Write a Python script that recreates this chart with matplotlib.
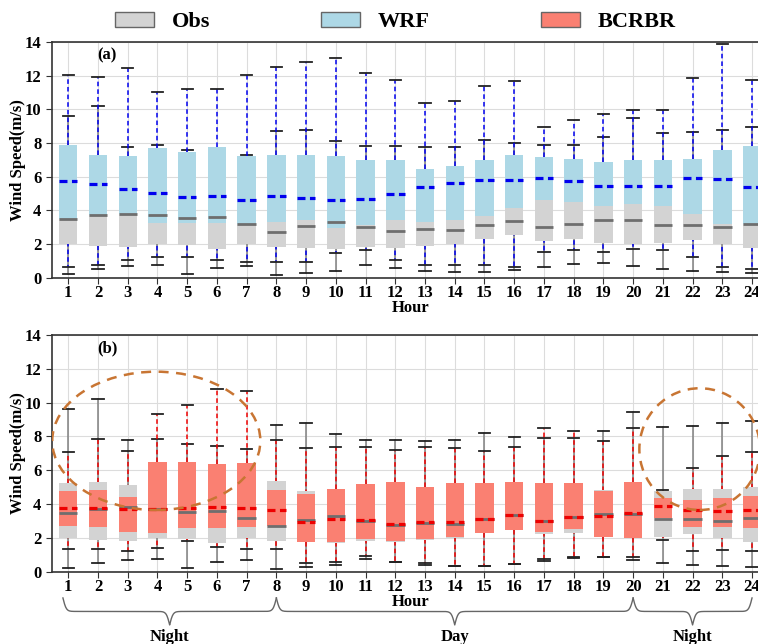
import numpy as np
import matplotlib
matplotlib.use("Agg")
import matplotlib.pyplot as plt
import matplotlib.transforms as mtransforms
from matplotlib.patches import Patch, Ellipse

plt.rcParams['font.family'] = ['Liberation Serif', 'DejaVu Serif']
plt.rcParams['font.weight'] = 'bold'
plt.rcParams['axes.labelweight'] = 'bold'

hours = list(range(1, 25))

# observations (same in both panels)
obs_low = [0.24, 0.50, 0.70, 0.77, 0.24, 0.57, 0.70, 0.18, 0.25, 0.37, 0.75, 0.59,
           0.40, 0.32, 0.34, 0.46, 0.65, 0.82, 0.86, 0.69, 0.50, 0.37, 0.34, 0.27]
obs_q1 = [2.00, 1.89, 1.80, 2.02, 1.92, 1.72, 1.98, 1.80, 1.73, 1.72, 1.79, 1.76,
          1.89, 2.02, 2.28, 2.50, 2.20, 2.30, 2.03, 2.00, 2.04, 2.24, 2.01, 1.73]
obs_med = [3.47, 3.72, 3.80, 3.72, 3.53, 3.60, 3.18, 2.72, 3.06, 3.28, 3.02, 2.77,
           2.90, 2.83, 3.13, 3.35, 2.98, 3.21, 3.41, 3.43, 3.12, 3.13, 3.01, 3.16]
obs_q3 = [5.22, 5.30, 5.10, 5.00, 5.00, 5.10, 4.90, 5.35, 4.77, 4.60, 4.80, 5.00,
          4.80, 4.90, 5.00, 5.00, 4.90, 5.00, 4.83, 5.00, 4.75, 4.89, 4.87, 4.99]
obs_high = [9.62, 10.22, 7.78, 7.86, 7.58, 7.44, 7.27, 8.70, 8.77, 8.12, 7.80, 7.80,
            7.75, 7.78, 8.20, 7.99, 7.90, 7.90, 8.32, 9.46, 8.57, 8.63, 8.77, 8.93]

# WRF
wrf_low = [0.63, 0.73, 1.07, 1.23, 1.25, 1.03, 0.93, 0.93, 0.93, 1.43, 1.66, 1.07,
           0.73, 0.73, 0.73, 0.63, 1.52, 1.66, 1.52, 1.72, 1.66, 1.23, 0.63, 0.53]
wrf_q1 = [3.50, 3.72, 3.80, 3.25, 3.25, 3.25, 3.20, 3.33, 3.40, 2.95, 3.10, 3.40,
          3.30, 3.40, 3.66, 4.14, 4.63, 4.46, 4.24, 4.34, 4.28, 3.76, 3.21, 3.17]
wrf_med = [5.74, 5.56, 5.25, 5.03, 4.78, 4.83, 4.58, 4.83, 4.73, 4.63, 4.68, 4.99,
           5.39, 5.62, 5.78, 5.78, 5.94, 5.74, 5.44, 5.44, 5.44, 5.94, 5.84, 5.39]
wrf_q3 = [7.88, 7.27, 7.20, 7.70, 7.43, 7.78, 7.22, 7.27, 7.27, 7.20, 6.97, 6.97,
          6.42, 6.63, 7.00, 7.27, 7.17, 7.07, 6.87, 7.00, 6.97, 7.07, 7.56, 7.80]
wrf_high = [12.03, 11.93, 12.43, 11.03, 11.22, 11.22, 12.03, 12.50, 12.82, 13.03, 12.13, 11.76,
            10.34, 10.47, 11.37, 11.66, 8.95, 9.35, 9.74, 9.94, 9.94, 11.86, 13.90, 11.76]

# BCRBR
bc_low = [1.32, 1.32, 1.22, 1.42, 1.83, 1.44, 1.34, 1.36, 0.49, 0.55, 0.93, 0.59,
          0.49, 0.34, 0.34, 0.45, 0.73, 0.85, 0.89, 0.89, 1.87, 1.24, 1.28, 1.24]
bc_q1 = [2.70, 2.66, 2.33, 2.31, 2.60, 2.60, 2.66, 2.70, 1.74, 1.74, 1.93, 1.81,
         1.91, 2.03, 2.27, 2.47, 2.37, 2.52, 2.07, 1.97, 3.15, 2.64, 2.62, 2.56]
bc_med = [3.75, 3.75, 3.69, 3.69, 3.79, 3.85, 3.79, 3.65, 2.92, 3.12, 3.06, 2.82,
          2.94, 2.92, 3.12, 3.33, 3.02, 3.21, 3.29, 3.45, 3.89, 3.63, 3.61, 3.63]
bc_q3 = [4.77, 4.83, 4.40, 6.51, 6.51, 6.37, 6.45, 4.81, 4.62, 4.87, 5.17, 5.29,
         4.99, 5.23, 5.25, 5.29, 5.25, 5.25, 4.77, 5.29, 4.38, 4.22, 4.38, 4.50]
bc_high = [7.10, 7.83, 7.16, 9.31, 9.86, 10.81, 10.69, 7.79, 7.34, 7.36, 7.36, 7.20,
           7.36, 7.34, 7.16, 7.36, 8.48, 8.32, 7.75, 8.48, 4.81, 6.11, 6.84, 7.10]

periods = [("Night", 1, 8), ("Day", 8, 20), ("Night", 20, 24)]


def make_stats(low, q1, med, q3, high):
    return [dict(whislo=a, q1=b, med=c, q3=d, whishi=e, fliers=[])
            for a, b, c, d, e in zip(low, q1, med, q3, high)]


def draw_box(ax, stats, face, wcolor, wstyle, mcolor, mstyle, zw, zb, zm, mlw):
    art = ax.bxp(stats, positions=hours, widths=0.62, patch_artist=True,
                 showfliers=False, manage_ticks=False, capwidths=0.38,
                 boxprops=dict(facecolor=face, edgecolor='none', linewidth=0),
                 whiskerprops=dict(color=wcolor, linestyle=wstyle, linewidth=1.1),
                 capprops=dict(color='#222222', linewidth=1.3),
                 medianprops=dict(color=mcolor, linestyle=mstyle, linewidth=mlw))
    for a in art['whiskers'] + art['caps']:
        a.set_zorder(zw)
    for a in art['boxes']:
        a.set_zorder(zb)
    for a in art['medians']:
        a.set_zorder(zm)


def brace(ax, x0, x1, label):
    # curly brace under the axis, x in data, y in axes fraction
    trans = mtransforms.blended_transform_factory(ax.transData, ax.transAxes)
    n = 201
    xm = (x0 + x1) / 2
    beta = 18.0
    xh = np.linspace(x0, xm, n)
    yh = 1 / (1 + np.exp(-beta * (xh - x0))) + 1 / (1 + np.exp(-beta * (xh - xm)))
    xs = np.concatenate([xh, (2 * xm - xh)[-2::-1]])
    ys = np.concatenate([yh, yh[-2::-1]])
    ys = -0.111 - (ys - 0.5) * 0.114
    ax.plot(xs, ys, color='#666666', lw=1.0, transform=trans, clip_on=False)
    ax.text(xm, -0.278, label, transform=trans, ha='center', va='center', fontsize=12)


fig = plt.figure(figsize=(7.58, 6.44), dpi=100)
ax1 = fig.add_axes([0.0682, 0.569, 0.9458, 0.366])
ax2 = fig.add_axes([0.0682, 0.1123, 0.9458, 0.3675])

obs_stats = make_stats(obs_low, obs_q1, obs_med, obs_q3, obs_high)
for ax, low, q1, med, q3, high, face, col, tag in [
        (ax1, wrf_low, wrf_q1, wrf_med, wrf_q3, wrf_high, '#add8e6', '#0000ee', '(a)'),
        (ax2, bc_low, bc_q1, bc_med, bc_q3, bc_high, '#fa8072', '#ee0000', '(b)')]:
    ax.set_axisbelow(True)
    ax.grid(True, color='#dcdcdc', lw=0.8)
    draw_box(ax, obs_stats, '#d3d3d3', '#808080', '-', '#6e6e6e', '-', 2.0, 2.4, 3.0, 2.0)
    draw_box(ax, make_stats(low, q1, med, q3, high), face, col, (0, (3, 2)),
             col, (0, (2.5, 1.4)), 2.2, 2.6, 3.2, 2.3)
    ax.set_xlim(0.442, 24.558)
    ax.set_ylim(0, 14)
    ax.set_xticks(hours)
    ax.set_yticks(range(0, 15, 2))
    ax.tick_params(labelsize=12, length=4, color='#333333')
    ax.tick_params(axis='x', pad=1.5)
    for s in ax.spines.values():
        s.set_color('#333333')
        s.set_linewidth(1.2)
    ax.set_xlabel('Hour', fontsize=12, labelpad=-1)
    ax.set_ylabel('Wind Speed(m/s)', fontsize=12, va='center')
    ax.yaxis.set_label_coords(-0.047, 0.5)
    ax.text(0.063, 0.944, tag, transform=ax.transAxes, ha='left', va='center', fontsize=12)

ax2.add_patch(Ellipse((3.96, 7.74), 7.0, 8.18, fill=False, ec='#c87533', lw=1.8,
                      ls=(0, (4, 3)), zorder=5))
ax2.add_patch(Ellipse((22.24, 7.25), 4.06, 7.2, fill=False, ec='#c87533', lw=1.8,
                      ls=(0, (4, 3)), zorder=5))

for name, a, b in periods:
    brace(ax2, a - 0.18, b, name) if a == 1 else brace(ax2, a, b, name)

handles = [Patch(facecolor='#d3d3d3', edgecolor='#666666'),
           Patch(facecolor='#add8e6', edgecolor='#666666'),
           Patch(facecolor='#fa8072', edgecolor='#666666')]
fig.legend(handles, ['Obs', 'WRF', 'BCRBR'], loc='center', bbox_to_anchor=(0.522, 0.966),
           ncol=3, frameon=False, prop=dict(weight='bold', size=16),
           handlelength=1.75, handleheight=0.65, handletextpad=0.8, columnspacing=5.0)

fig.savefig('out.png', dpi=100)
